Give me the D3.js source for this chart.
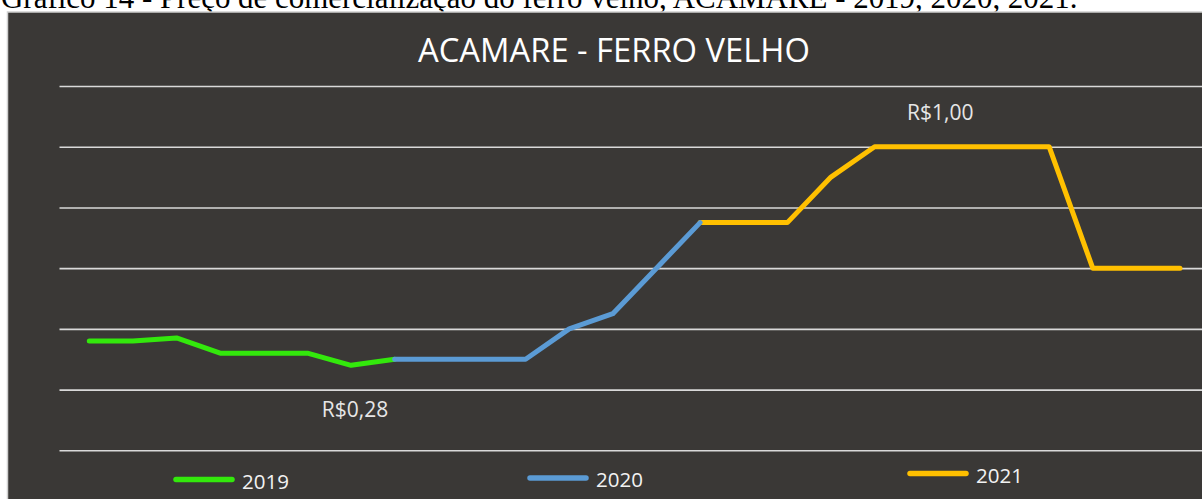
<!DOCTYPE html>
<html>
<head>
<meta charset="utf-8">
<script src="https://cdn.jsdelivr.net/npm/d3@7"></script>
<style>
  html, body { margin: 0; padding: 0; background: #ffffff; overflow: hidden; }
  svg { display: block; }
</style>
</head>
<body>
<svg id="chart" width="1202" height="499"></svg>
<script>
// ---- data ----
const categories = ["1","2","3","4","5","6","7","8","9","10","11","12","13","14","15","16","17","18","19","20","21","22","23","24","25","26"];
const series2019 = [0.36, 0.36, 0.37, 0.32, 0.32, 0.32, 0.28, 0.30];
const series2020 = [0.30, 0.30, 0.30, 0.30, 0.40, 0.45, 0.60, 0.75];
const series2021 = [0.75, 0.75, 0.75, 0.90, 1.00, 1.00, 1.00, 1.00, 1.00, 0.60, 0.60, 0.60];
const start2019 = 0, start2020 = 7, start2021 = 14;
const yTicks = [0, 0.2, 0.4, 0.6, 0.8, 1.0, 1.2];
const seriesNames = ["2019", "2020", "2021"];
const chartTitle = "ACAMARE - FERRO VELHO";
const caption = "Gráfico 14 - Preço de comercialização do ferro velho, ACAMARE - 2019, 2020, 2021.";
const dataLabels = [{text: "R$0,28", idx: 6, value: 0.28}, {text: "R$1,00", idx: 19, value: 1.00}];

const colors = {"2019": "#33e80c", "2020": "#5b9bd5", "2021": "#ffc000"};

const svg = d3.select("#chart");

function fitText(sel, target) {
  const node = sel.node();
  const fs = parseFloat(sel.attr("font-size"));
  const w = node.getComputedTextLength();
  if (w > 0) sel.attr("font-size", (fs * target / w).toFixed(2));
  return sel;
}

// caption (cut off at top)
const cap = svg.append("text")
  .attr("x", 1).attr("y", 8)
  .attr("font-family", "'Liberation Serif', 'Times New Roman', serif")
  .attr("font-size", 24)
  .attr("fill", "#000")
  .text(caption);
fitText(cap, 1077);

// chart frame
svg.append("rect")
  .attr("x", 7.5).attr("y", 12)
  .attr("width", 1210).attr("height", 500)
  .attr("fill", "#3a3836")
  .attr("stroke", "#d0d0d0")
  .attr("stroke-width", 1.5);

// scales
const x = d3.scalePoint().domain(categories).range([89.3, 1180]);
const y = d3.scaleLinear().domain([0, 1.2]).range([450.3, 86]);

// gridlines via axis
const grid = svg.append("g")
  .attr("transform", "translate(59.5,0)")
  .call(d3.axisLeft(y).tickValues(yTicks).tickSize(-1160).tickFormat(""));
grid.select(".domain").remove();
grid.selectAll(".tick line").attr("stroke", "#d9d9d9").attr("stroke-width", 1.6);

// title
const title = svg.append("text")
  .attr("x", 614).attr("y", 61.5)
  .attr("text-anchor", "middle")
  .attr("font-family", "'Open Sans', sans-serif")
  .attr("font-size", 31)
  .attr("fill", "#ffffff")
  .text(chartTitle);
fitText(title, 392);

// lines
const line = d3.line()
  .x(d => x(d.cat))
  .y(d => y(d.v));

function pts(arr, start) {
  return arr.map((v, i) => ({cat: categories[start + i], v: v}));
}
const seriesData = [
  {name: "2019", data: pts(series2019, start2019)},
  {name: "2021", data: pts(series2021, start2021)},
  {name: "2020", data: pts(series2020, start2020)}
];
svg.append("g").selectAll("path")
  .data(seriesData)
  .join("path")
  .attr("d", d => line(d.data))
  .attr("fill", "none")
  .attr("stroke", d => colors[d.name])
  .attr("stroke-width", 5)
  .attr("stroke-linecap", "round")
  .attr("stroke-linejoin", "round");

// data labels
const lblPos = [{dx: 4, dy: 44}, {dx: 22, dy: -35}];
dataLabels.forEach((l, i) => {
  const t = svg.append("text")
    .attr("x", x(categories[l.idx]) + lblPos[i].dx)
    .attr("y", y(l.value) + lblPos[i].dy)
    .attr("text-anchor", "middle")
    .attr("dominant-baseline", "central")
    .attr("font-family", "'Open Sans', sans-serif")
    .attr("font-size", 20)
    .attr("fill", "#e6e6e6")
    .text(l.text);
  fitText(t, 66.5);
});

// legend
const legendPos = [
  {x1: 176, x2: 232, y: 479.5, tx: 242, ty: 481},
  {x1: 530, x2: 586, y: 478, tx: 596, ty: 478.5},
  {x1: 910, x2: 966, y: 473.5, tx: 976, ty: 474.5}
];
seriesNames.forEach((n, i) => {
  const p = legendPos[i];
  svg.append("line")
    .attr("x1", p.x1).attr("x2", p.x2)
    .attr("y1", p.y).attr("y2", p.y)
    .attr("stroke", colors[n])
    .attr("stroke-width", 5.5)
    .attr("stroke-linecap", "round");
  const t = svg.append("text")
    .attr("x", p.tx).attr("y", p.ty)
    .attr("dominant-baseline", "central")
    .attr("font-family", "'Open Sans', sans-serif")
    .attr("font-size", 20)
    .attr("fill", "#f2f2f2")
    .text(n);
  fitText(t, 47);
});
</script>
</body>
</html>
